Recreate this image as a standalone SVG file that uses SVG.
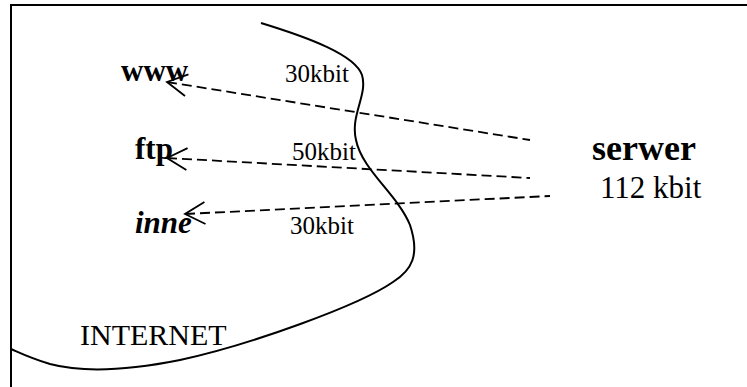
<svg xmlns="http://www.w3.org/2000/svg" width="747" height="387" viewBox="0 0 747 387">
  <style>
    .lbl { font-family: "Liberation Serif", "Times New Roman", serif; fill: #000; }
    .rate { font-size: 25px; }
    .svc { font-size: 31px; font-weight: bold; }
    .flow { fill: none; stroke: #000; stroke-width: 1.8; stroke-dasharray: 10 5; }
    .edge { fill: none; stroke: #000; stroke-width: 2; }
  </style>
  <defs>
    <marker id="vhead" markerUnits="userSpaceOnUse" markerWidth="30" markerHeight="30" refX="0" refY="0" viewBox="-2 -15 30 30" orient="auto" overflow="visible">
      <path d="M20,-11 L0,0 L20,11" fill="none" stroke="#000" stroke-width="1.8"/>
    </marker>
  </defs>
  <rect width="747" height="387" fill="#fff"/>

  <!-- page frame -->
  <path class="edge" d="M11,387 L11,5 L747,5"/>

  <!-- internet boundary -->
  <g id="internet">
    <path class="edge" d="M261,23 C310,38 355,55 362,75 C368,95 350,115 356,140 C362,170 398,195 410,225 C420,255 412,270 393,282 C360,305 250,345 180,360 C120,372 80,372 50,364 C30,358 18,352 11,349"/>
    <text class="lbl" x="80" y="345" font-size="30">INTERNET</text>
  </g>

  <g id="www"><text class="lbl svc" x="121" y="81">www</text></g>
  <g id="ftp"><text class="lbl svc" x="135" y="159">ftp</text></g>
  <g id="inne"><text class="lbl svc" x="135" y="233" font-style="italic">inne</text></g>

  <g id="serwer">
    <text class="lbl" x="592" y="160" font-size="36" font-weight="bold">serwer</text>
    <text class="lbl" x="600" y="198" font-size="31">112 kbit</text>
  </g>

  <g id="connectors">
    <path class="flow" d="M167,82 L530,140" marker-start="url(#vhead)"/>
    <path class="flow" d="M167,158 L530,178" marker-start="url(#vhead)"/>
    <path class="flow" d="M185,214 L550,196" marker-start="url(#vhead)"/>
    <text class="lbl rate" x="285" y="82">30kbit</text>
    <text class="lbl rate" x="292" y="160">50kbit</text>
    <text class="lbl rate" x="290" y="234">30kbit</text>
  </g>
</svg>
